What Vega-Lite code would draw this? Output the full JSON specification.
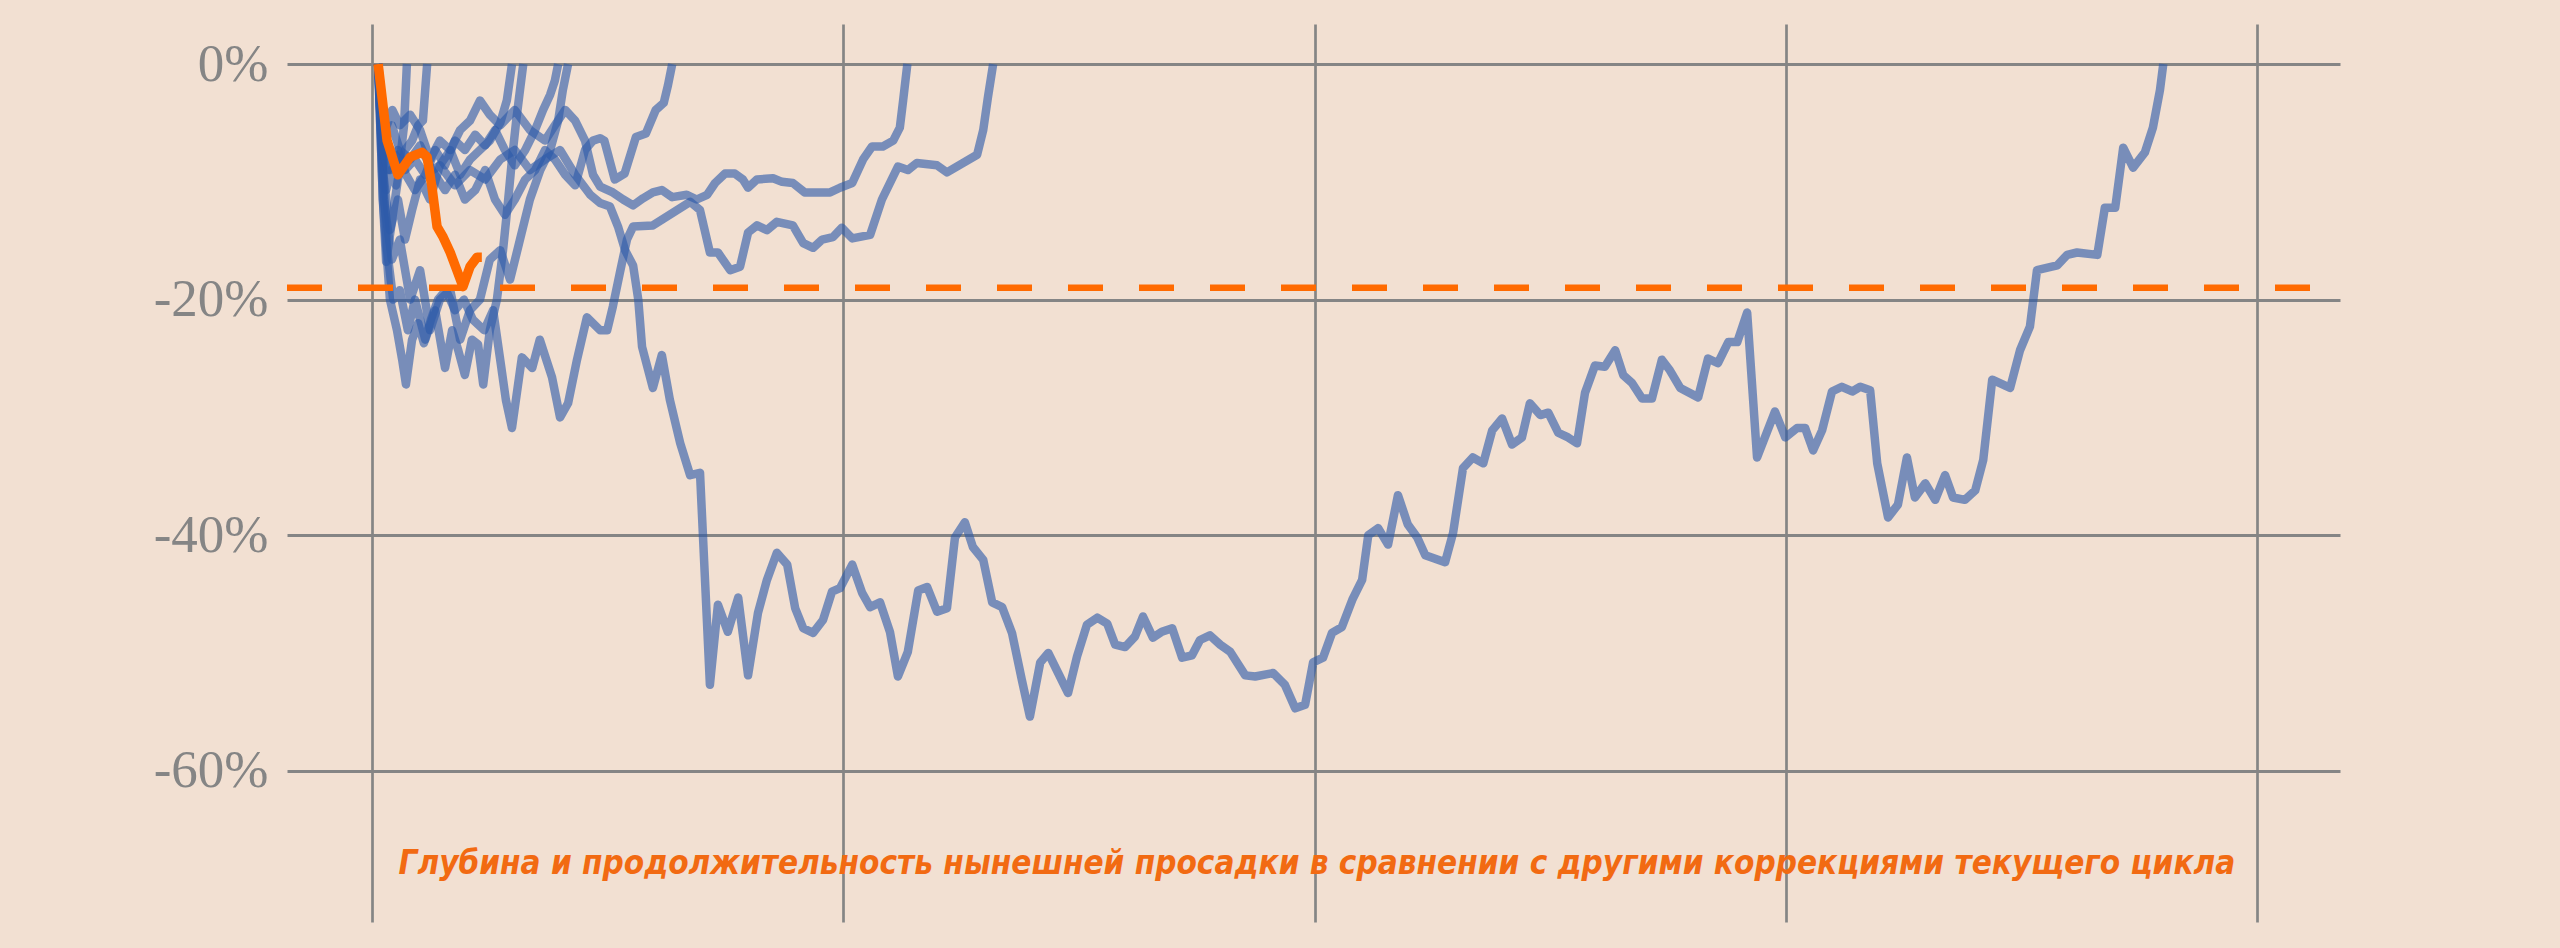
{
  "$schema": "https://vega.github.io/schema/vega-lite/v6.json",
  "width": 2053,
  "height": 898,
  "autosize": {"type": "none"},
  "padding": {"left": 287, "top": 24, "right": 220, "bottom": 26},
  "background": "#F2E0D2",
  "config": {"view": {"stroke": null}},
  "datasets": {
    "blue": [
      {"s": "s1", "d": 1.3, "p": 0}, {"s": "s1", "d": 2.1, "p": -6.5}, {"s": "s1", "d": 3.0, "p": -10.7}, {"s": "s1", "d": 4.0, "p": -9.0}, {"s": "s1", "d": 5.1, "p": -10.3}, {"s": "s1", "d": 6.2, "p": -7.3}, {"s": "s1", "d": 6.8, "p": -5.2}, {"s": "s1", "d": 7.4, "p": 0},

      {"s": "s2", "d": 1.3, "p": 0}, {"s": "s2", "d": 2.3, "p": -11.5}, {"s": "s2", "d": 3.0, "p": -16.8}, {"s": "s2", "d": 4.2, "p": -13.4}, {"s": "s2", "d": 5.5, "p": -9.8}, {"s": "s2", "d": 7.0, "p": -7.3}, {"s": "s2", "d": 8.5, "p": -6.5}, {"s": "s2", "d": 9.8, "p": -5.2}, {"s": "s2", "d": 10.8, "p": -4.8}, {"s": "s2", "d": 11.7, "p": 0},

      {"s": "s3", "d": 1.3, "p": 0}, {"s": "s3", "d": 2.3, "p": -9.0}, {"s": "s3", "d": 3.8, "p": -14.1}, {"s": "s3", "d": 5.5, "p": -11.5}, {"s": "s3", "d": 7.0, "p": -14.9}, {"s": "s3", "d": 8.5, "p": -12.4}, {"s": "s3", "d": 10.2, "p": -9.8}, {"s": "s3", "d": 12.3, "p": -11.5}, {"s": "s3", "d": 14.4, "p": -8.6}, {"s": "s3", "d": 16.6, "p": -7.3}, {"s": "s3", "d": 18.7, "p": -9.4}, {"s": "s3", "d": 20.8, "p": -8.1}, {"s": "s3", "d": 22.9, "p": -7.3}, {"s": "s3", "d": 25.0, "p": -6.5}, {"s": "s3", "d": 27.2, "p": -5.0}, {"s": "s3", "d": 28.6, "p": -3.1}, {"s": "s3", "d": 29.7, "p": 0},

      {"s": "s4", "d": 1.3, "p": 0}, {"s": "s4", "d": 2.1, "p": -7.3}, {"s": "s4", "d": 3.2, "p": -15.8}, {"s": "s4", "d": 4.5, "p": -20.0}, {"s": "s4", "d": 5.9, "p": -19.2}, {"s": "s4", "d": 7.6, "p": -22.6}, {"s": "s4", "d": 9.1, "p": -20.0}, {"s": "s4", "d": 11.3, "p": -23.4}, {"s": "s4", "d": 13.4, "p": -20.9}, {"s": "s4", "d": 15.5, "p": -25.8}, {"s": "s4", "d": 17.0, "p": -22.6}, {"s": "s4", "d": 18.3, "p": -24.3}, {"s": "s4", "d": 19.7, "p": -26.4}, {"s": "s4", "d": 21.2, "p": -23.4}, {"s": "s4", "d": 22.5, "p": -23.8}, {"s": "s4", "d": 23.6, "p": -27.2}, {"s": "s4", "d": 25.0, "p": -22.6}, {"s": "s4", "d": 26.5, "p": -20.0}, {"s": "s4", "d": 27.8, "p": -15.8}, {"s": "s4", "d": 28.9, "p": -11.5}, {"s": "s4", "d": 29.7, "p": -8.1}, {"s": "s4", "d": 30.6, "p": -4.8}, {"s": "s4", "d": 31.4, "p": -2.2}, {"s": "s4", "d": 32.1, "p": 0},

      {"s": "s5", "d": 1.3, "p": 0}, {"s": "s5", "d": 2.3, "p": -5.6}, {"s": "s5", "d": 3.8, "p": -9.0}, {"s": "s5", "d": 5.5, "p": -7.3}, {"s": "s5", "d": 7.2, "p": -9.4}, {"s": "s5", "d": 9.1, "p": -10.7}, {"s": "s5", "d": 11.3, "p": -9.4}, {"s": "s5", "d": 13.4, "p": -7.3}, {"s": "s5", "d": 15.5, "p": -8.6}, {"s": "s5", "d": 17.6, "p": -6.5}, {"s": "s5", "d": 19.7, "p": -7.3}, {"s": "s5", "d": 21.9, "p": -6.0}, {"s": "s5", "d": 24.0, "p": -6.9}, {"s": "s5", "d": 26.1, "p": -5.6}, {"s": "s5", "d": 28.2, "p": -7.3}, {"s": "s5", "d": 30.3, "p": -8.6}, {"s": "s5", "d": 32.5, "p": -7.3}, {"s": "s5", "d": 34.6, "p": -5.6}, {"s": "s5", "d": 36.3, "p": -3.9}, {"s": "s5", "d": 37.8, "p": -2.6}, {"s": "s5", "d": 38.8, "p": -1.4}, {"s": "s5", "d": 39.5, "p": 0},

      {"s": "s6", "d": 1.3, "p": 0}, {"s": "s6", "d": 2.5, "p": -11.5}, {"s": "s6", "d": 4.2, "p": -16.6}, {"s": "s6", "d": 5.9, "p": -14.9}, {"s": "s6", "d": 8.1, "p": -20.0}, {"s": "s6", "d": 10.2, "p": -17.5}, {"s": "s6", "d": 12.3, "p": -22.6}, {"s": "s6", "d": 14.4, "p": -20.0}, {"s": "s6", "d": 16.6, "p": -19.2}, {"s": "s6", "d": 18.7, "p": -23.4}, {"s": "s6", "d": 20.8, "p": -20.9}, {"s": "s6", "d": 22.9, "p": -20.0}, {"s": "s6", "d": 25.0, "p": -16.6}, {"s": "s6", "d": 27.2, "p": -15.8}, {"s": "s6", "d": 29.3, "p": -18.3}, {"s": "s6", "d": 31.4, "p": -14.9}, {"s": "s6", "d": 33.5, "p": -11.5}, {"s": "s6", "d": 35.7, "p": -9.0}, {"s": "s6", "d": 37.8, "p": -7.3}, {"s": "s6", "d": 39.5, "p": -4.8}, {"s": "s6", "d": 40.5, "p": -2.2}, {"s": "s6", "d": 41.6, "p": 0},

      {"s": "s7", "d": 1.3, "p": 0}, {"s": "s7", "d": 2.5, "p": -6.5}, {"s": "s7", "d": 4.2, "p": -5.2}, {"s": "s7", "d": 5.9, "p": -7.3}, {"s": "s7", "d": 8.1, "p": -8.1}, {"s": "s7", "d": 10.2, "p": -6.9}, {"s": "s7", "d": 12.7, "p": -9.0}, {"s": "s7", "d": 15.5, "p": -10.7}, {"s": "s7", "d": 17.6, "p": -9.4}, {"s": "s7", "d": 19.7, "p": -11.5}, {"s": "s7", "d": 21.9, "p": -10.7}, {"s": "s7", "d": 24.0, "p": -9.0}, {"s": "s7", "d": 26.1, "p": -11.5}, {"s": "s7", "d": 28.2, "p": -12.8}, {"s": "s7", "d": 30.3, "p": -11.5}, {"s": "s7", "d": 32.5, "p": -9.8}, {"s": "s7", "d": 34.6, "p": -9.0}, {"s": "s7", "d": 36.7, "p": -7.3}, {"s": "s7", "d": 38.8, "p": -8.1}, {"s": "s7", "d": 41.0, "p": -9.4}, {"s": "s7", "d": 43.1, "p": -10.3}, {"s": "s7", "d": 45.2, "p": -7.3}, {"s": "s7", "d": 46.9, "p": -6.5}, {"s": "s7", "d": 48.4, "p": -6.3}, {"s": "s7", "d": 49.3, "p": -6.5}, {"s": "s7", "d": 51.5, "p": -9.8}, {"s": "s7", "d": 53.6, "p": -9.3}, {"s": "s7", "d": 56.0, "p": -6.2}, {"s": "s7", "d": 58.1, "p": -5.9}, {"s": "s7", "d": 60.2, "p": -3.9}, {"s": "s7", "d": 61.9, "p": -3.3}, {"s": "s7", "d": 62.8, "p": -1.8}, {"s": "s7", "d": 63.7, "p": 0},

      {"s": "s8", "d": 1.3, "p": 0}, {"s": "s8", "d": 2.8, "p": -5.6}, {"s": "s8", "d": 4.3, "p": -3.9}, {"s": "s8", "d": 5.9, "p": -5.2}, {"s": "s8", "d": 8.1, "p": -4.3}, {"s": "s8", "d": 10.2, "p": -5.6}, {"s": "s8", "d": 12.3, "p": -8.1}, {"s": "s8", "d": 14.4, "p": -6.5}, {"s": "s8", "d": 16.6, "p": -7.3}, {"s": "s8", "d": 18.7, "p": -5.6}, {"s": "s8", "d": 20.8, "p": -4.8}, {"s": "s8", "d": 22.9, "p": -3.1}, {"s": "s8", "d": 25.0, "p": -4.3}, {"s": "s8", "d": 27.2, "p": -5.2}, {"s": "s8", "d": 30.3, "p": -3.9}, {"s": "s8", "d": 33.5, "p": -5.6}, {"s": "s8", "d": 36.7, "p": -6.5}, {"s": "s8", "d": 38.8, "p": -5.2}, {"s": "s8", "d": 41.0, "p": -3.9}, {"s": "s8", "d": 43.1, "p": -4.8}, {"s": "s8", "d": 45.2, "p": -6.5}, {"s": "s8", "d": 46.9, "p": -9.4}, {"s": "s8", "d": 48.4, "p": -10.4}, {"s": "s8", "d": 51.1, "p": -10.9}, {"s": "s8", "d": 53.3, "p": -11.5}, {"s": "s8", "d": 55.4, "p": -12.0}, {"s": "s8", "d": 57.5, "p": -11.4}, {"s": "s8", "d": 59.6, "p": -10.9}, {"s": "s8", "d": 61.5, "p": -10.7}, {"s": "s8", "d": 63.7, "p": -11.3}, {"s": "s8", "d": 66.8, "p": -11.1}, {"s": "s8", "d": 68.9, "p": -11.5}, {"s": "s8", "d": 71.1, "p": -11.1}, {"s": "s8", "d": 72.8, "p": -10.1}, {"s": "s8", "d": 74.9, "p": -9.3}, {"s": "s8", "d": 77.0, "p": -9.3}, {"s": "s8", "d": 78.7, "p": -9.8}, {"s": "s8", "d": 79.8, "p": -10.5}, {"s": "s8", "d": 81.7, "p": -9.8}, {"s": "s8", "d": 85.1, "p": -9.7}, {"s": "s8", "d": 87.0, "p": -10.0}, {"s": "s8", "d": 89.3, "p": -10.1}, {"s": "s8", "d": 91.8, "p": -10.9}, {"s": "s8", "d": 97.2, "p": -10.9}, {"s": "s8", "d": 99.3, "p": -10.5}, {"s": "s8", "d": 101.9, "p": -10.1}, {"s": "s8", "d": 104.2, "p": -8.1}, {"s": "s8", "d": 106.1, "p": -7.0}, {"s": "s8", "d": 108.4, "p": -7.0}, {"s": "s8", "d": 110.6, "p": -6.5}, {"s": "s8", "d": 112.0, "p": -5.4}, {"s": "s8", "d": 112.7, "p": -3.1}, {"s": "s8", "d": 113.6, "p": 0},

      {"s": "s9", "d": 1.3, "p": 0}, {"s": "s9", "d": 2.3, "p": -11.5}, {"s": "s9", "d": 3.8, "p": -20.0}, {"s": "s9", "d": 5.3, "p": -22.6}, {"s": "s9", "d": 6.4, "p": -25.1}, {"s": "s9", "d": 7.2, "p": -27.2}, {"s": "s9", "d": 8.5, "p": -23.4}, {"s": "s9", "d": 9.8, "p": -22.0}, {"s": "s9", "d": 11.0, "p": -23.7}, {"s": "s9", "d": 12.5, "p": -21.7}, {"s": "s9", "d": 14.0, "p": -20.0}, {"s": "s9", "d": 15.7, "p": -19.2}, {"s": "s9", "d": 17.6, "p": -20.9}, {"s": "s9", "d": 19.5, "p": -20.0}, {"s": "s9", "d": 21.4, "p": -21.7}, {"s": "s9", "d": 23.8, "p": -22.6}, {"s": "s9", "d": 25.7, "p": -20.9}, {"s": "s9", "d": 27.2, "p": -25.1}, {"s": "s9", "d": 28.4, "p": -28.5}, {"s": "s9", "d": 29.7, "p": -30.9}, {"s": "s9", "d": 31.8, "p": -24.9}, {"s": "s9", "d": 34.0, "p": -25.8}, {"s": "s9", "d": 35.6, "p": -23.4}, {"s": "s9", "d": 38.2, "p": -26.6}, {"s": "s9", "d": 39.9, "p": -30.0}, {"s": "s9", "d": 41.6, "p": -28.8}, {"s": "s9", "d": 43.5, "p": -25.1}, {"s": "s9", "d": 45.6, "p": -21.5}, {"s": "s9", "d": 48.4, "p": -22.6}, {"s": "s9", "d": 49.9, "p": -22.6}, {"s": "s9", "d": 51.1, "p": -20.6}, {"s": "s9", "d": 52.6, "p": -17.7}, {"s": "s9", "d": 54.1, "p": -14.9}, {"s": "s9", "d": 55.4, "p": -13.8}, {"s": "s9", "d": 59.6, "p": -13.7}, {"s": "s9", "d": 67.5, "p": -11.7}, {"s": "s9", "d": 69.6, "p": -12.4}, {"s": "s9", "d": 71.7, "p": -16.0}, {"s": "s9", "d": 73.4, "p": -16.0}, {"s": "s9", "d": 76.0, "p": -17.5}, {"s": "s9", "d": 78.1, "p": -17.2}, {"s": "s9", "d": 79.8, "p": -14.3}, {"s": "s9", "d": 81.7, "p": -13.7}, {"s": "s9", "d": 83.8, "p": -14.1}, {"s": "s9", "d": 85.9, "p": -13.4}, {"s": "s9", "d": 89.3, "p": -13.7}, {"s": "s9", "d": 91.5, "p": -15.2}, {"s": "s9", "d": 93.6, "p": -15.6}, {"s": "s9", "d": 95.5, "p": -14.9}, {"s": "s9", "d": 97.8, "p": -14.7}, {"s": "s9", "d": 99.7, "p": -13.9}, {"s": "s9", "d": 101.9, "p": -14.8}, {"s": "s9", "d": 105.7, "p": -14.5}, {"s": "s9", "d": 108.2, "p": -11.5}, {"s": "s9", "d": 111.6, "p": -8.7}, {"s": "s9", "d": 113.7, "p": -9.0}, {"s": "s9", "d": 115.6, "p": -8.4}, {"s": "s9", "d": 119.9, "p": -8.6}, {"s": "s9", "d": 122.0, "p": -9.2}, {"s": "s9", "d": 128.4, "p": -7.7}, {"s": "s9", "d": 129.7, "p": -5.6}, {"s": "s9", "d": 130.7, "p": -2.8}, {"s": "s9", "d": 131.8, "p": 0},

      {"s": "s10", "d": 1.3, "p": 0}, {"s": "s10", "d": 2.3, "p": -7.3}, {"s": "s10", "d": 3.4, "p": -9.0}, {"s": "s10", "d": 4.9, "p": -7.7}, {"s": "s10", "d": 7.0, "p": -9.0}, {"s": "s10", "d": 9.1, "p": -8.1}, {"s": "s10", "d": 11.3, "p": -9.4}, {"s": "s10", "d": 14.4, "p": -8.6}, {"s": "s10", "d": 17.6, "p": -10.3}, {"s": "s10", "d": 20.8, "p": -9.0}, {"s": "s10", "d": 24.0, "p": -9.8}, {"s": "s10", "d": 27.2, "p": -8.1}, {"s": "s10", "d": 30.3, "p": -7.3}, {"s": "s10", "d": 33.5, "p": -9.0}, {"s": "s10", "d": 36.7, "p": -8.1}, {"s": "s10", "d": 39.9, "p": -7.3}, {"s": "s10", "d": 43.1, "p": -9.4}, {"s": "s10", "d": 46.3, "p": -11.1}, {"s": "s10", "d": 48.4, "p": -11.8}, {"s": "s10", "d": 50.5, "p": -12.1}, {"s": "s10", "d": 52.2, "p": -13.8}, {"s": "s10", "d": 53.7, "p": -15.8}, {"s": "s10", "d": 55.4, "p": -17.1}, {"s": "s10", "d": 56.5, "p": -20.0}, {"s": "s10", "d": 57.3, "p": -24.0}, {"s": "s10", "d": 59.6, "p": -27.5}, {"s": "s10", "d": 61.5, "p": -24.7}, {"s": "s10", "d": 63.2, "p": -28.5}, {"s": "s10", "d": 65.4, "p": -32.2}, {"s": "s10", "d": 67.5, "p": -34.9}, {"s": "s10", "d": 69.6, "p": -34.7}, {"s": "s10", "d": 71.7, "p": -52.7}, {"s": "s10", "d": 73.4, "p": -45.9}, {"s": "s10", "d": 75.5, "p": -48.2}, {"s": "s10", "d": 77.7, "p": -45.3}, {"s": "s10", "d": 79.8, "p": -51.9}, {"s": "s10", "d": 81.9, "p": -46.6}, {"s": "s10", "d": 83.8, "p": -43.8}, {"s": "s10", "d": 85.9, "p": -41.5}, {"s": "s10", "d": 88.1, "p": -42.5}, {"s": "s10", "d": 89.8, "p": -46.2}, {"s": "s10", "d": 91.5, "p": -47.9}, {"s": "s10", "d": 93.6, "p": -48.3}, {"s": "s10", "d": 95.7, "p": -47.2}, {"s": "s10", "d": 97.6, "p": -44.8}, {"s": "s10", "d": 99.3, "p": -44.5}, {"s": "s10", "d": 101.9, "p": -42.5}, {"s": "s10", "d": 104.0, "p": -44.9}, {"s": "s10", "d": 105.7, "p": -46.1}, {"s": "s10", "d": 107.8, "p": -45.7}, {"s": "s10", "d": 109.9, "p": -48.2}, {"s": "s10", "d": 111.6, "p": -52.0}, {"s": "s10", "d": 113.7, "p": -49.9}, {"s": "s10", "d": 115.9, "p": -44.7}, {"s": "s10", "d": 117.8, "p": -44.4}, {"s": "s10", "d": 119.9, "p": -46.5}, {"s": "s10", "d": 122.0, "p": -46.2}, {"s": "s10", "d": 123.7, "p": -40.2}, {"s": "s10", "d": 125.8, "p": -38.9}, {"s": "s10", "d": 127.5, "p": -41.0}, {"s": "s10", "d": 129.7, "p": -42.1}, {"s": "s10", "d": 131.6, "p": -45.7}, {"s": "s10", "d": 133.7, "p": -46.1}, {"s": "s10", "d": 135.8, "p": -48.3}, {"s": "s10", "d": 137.9, "p": -52.3}, {"s": "s10", "d": 139.6, "p": -55.4}, {"s": "s10", "d": 141.8, "p": -50.8}, {"s": "s10", "d": 143.5, "p": -50.0}, {"s": "s10", "d": 145.6, "p": -51.7}, {"s": "s10", "d": 147.7, "p": -53.4}, {"s": "s10", "d": 149.6, "p": -50.3}, {"s": "s10", "d": 151.7, "p": -47.6}, {"s": "s10", "d": 153.9, "p": -47.0}, {"s": "s10", "d": 156.0, "p": -47.5}, {"s": "s10", "d": 157.7, "p": -49.3}, {"s": "s10", "d": 159.8, "p": -49.5}, {"s": "s10", "d": 161.9, "p": -48.6}, {"s": "s10", "d": 163.6, "p": -46.9}, {"s": "s10", "d": 165.7, "p": -48.7}, {"s": "s10", "d": 167.6, "p": -48.2}, {"s": "s10", "d": 169.8, "p": -47.9}, {"s": "s10", "d": 171.9, "p": -50.4}, {"s": "s10", "d": 174.0, "p": -50.2}, {"s": "s10", "d": 175.7, "p": -48.9}, {"s": "s10", "d": 177.8, "p": -48.5}, {"s": "s10", "d": 180.0, "p": -49.3}, {"s": "s10", "d": 182.1, "p": -49.9}, {"s": "s10", "d": 185.3, "p": -51.9}, {"s": "s10", "d": 187.4, "p": -52.0}, {"s": "s10", "d": 191.2, "p": -51.7}, {"s": "s10", "d": 193.7, "p": -52.7}, {"s": "s10", "d": 195.9, "p": -54.7}, {"s": "s10", "d": 198.0, "p": -54.4}, {"s": "s10", "d": 199.7, "p": -50.8}, {"s": "s10", "d": 201.8, "p": -50.4}, {"s": "s10", "d": 203.7, "p": -48.3}, {"s": "s10", "d": 205.8, "p": -47.8}, {"s": "s10", "d": 208.0, "p": -45.5}, {"s": "s10", "d": 210.1, "p": -43.8}, {"s": "s10", "d": 211.4, "p": -40.0}, {"s": "s10", "d": 213.5, "p": -39.4}, {"s": "s10", "d": 215.6, "p": -40.8}, {"s": "s10", "d": 217.7, "p": -36.6}, {"s": "s10", "d": 219.8, "p": -39.1}, {"s": "s10", "d": 221.8, "p": -40.2}, {"s": "s10", "d": 223.5, "p": -41.7}, {"s": "s10", "d": 227.7, "p": -42.3}, {"s": "s10", "d": 229.4, "p": -39.8}, {"s": "s10", "d": 231.5, "p": -34.3}, {"s": "s10", "d": 233.6, "p": -33.4}, {"s": "s10", "d": 235.8, "p": -33.9}, {"s": "s10", "d": 237.7, "p": -31.1}, {"s": "s10", "d": 239.8, "p": -30.1}, {"s": "s10", "d": 241.9, "p": -32.3}, {"s": "s10", "d": 244.0, "p": -31.7}, {"s": "s10", "d": 245.7, "p": -28.8}, {"s": "s10", "d": 247.9, "p": -29.8}, {"s": "s10", "d": 249.6, "p": -29.6}, {"s": "s10", "d": 251.7, "p": -31.3}, {"s": "s10", "d": 253.8, "p": -31.7}, {"s": "s10", "d": 255.7, "p": -32.2}, {"s": "s10", "d": 257.4, "p": -27.9}, {"s": "s10", "d": 259.5, "p": -25.6}, {"s": "s10", "d": 261.6, "p": -25.7}, {"s": "s10", "d": 263.8, "p": -24.3}, {"s": "s10", "d": 265.5, "p": -26.4}, {"s": "s10", "d": 267.4, "p": -27.1}, {"s": "s10", "d": 269.5, "p": -28.4}, {"s": "s10", "d": 271.6, "p": -28.4}, {"s": "s10", "d": 273.7, "p": -25.1}, {"s": "s10", "d": 275.4, "p": -26.0}, {"s": "s10", "d": 277.6, "p": -27.5}, {"s": "s10", "d": 281.4, "p": -28.3}, {"s": "s10", "d": 283.5, "p": -25.0}, {"s": "s10", "d": 285.6, "p": -25.4}, {"s": "s10", "d": 287.8, "p": -23.6}, {"s": "s10", "d": 289.7, "p": -23.6}, {"s": "s10", "d": 291.8, "p": -21.1}, {"s": "s10", "d": 293.9, "p": -33.4}, {"s": "s10", "d": 297.7, "p": -29.5}, {"s": "s10", "d": 299.9, "p": -31.7}, {"s": "s10", "d": 302.4, "p": -30.9}, {"s": "s10", "d": 304.1, "p": -30.9}, {"s": "s10", "d": 305.8, "p": -32.8}, {"s": "s10", "d": 307.7, "p": -31.1}, {"s": "s10", "d": 309.8, "p": -27.8}, {"s": "s10", "d": 311.9, "p": -27.4}, {"s": "s10", "d": 314.1, "p": -27.8}, {"s": "s10", "d": 315.8, "p": -27.4}, {"s": "s10", "d": 317.9, "p": -27.7}, {"s": "s10", "d": 319.4, "p": -33.9}, {"s": "s10", "d": 321.7, "p": -38.5}, {"s": "s10", "d": 323.8, "p": -37.4}, {"s": "s10", "d": 325.7, "p": -33.4}, {"s": "s10", "d": 327.4, "p": -36.8}, {"s": "s10", "d": 329.6, "p": -35.6}, {"s": "s10", "d": 331.7, "p": -37.0}, {"s": "s10", "d": 333.8, "p": -34.9}, {"s": "s10", "d": 335.5, "p": -36.8}, {"s": "s10", "d": 338.0, "p": -37.0}, {"s": "s10", "d": 340.2, "p": -36.2}, {"s": "s10", "d": 341.9, "p": -33.6}, {"s": "s10", "d": 343.8, "p": -26.8}, {"s": "s10", "d": 347.6, "p": -27.5}, {"s": "s10", "d": 349.7, "p": -24.3}, {"s": "s10", "d": 351.8, "p": -22.3}, {"s": "s10", "d": 353.3, "p": -17.5}, {"s": "s10", "d": 357.6, "p": -17.1}, {"s": "s10", "d": 359.7, "p": -16.2}, {"s": "s10", "d": 361.8, "p": -16.0}, {"s": "s10", "d": 366.1, "p": -16.2}, {"s": "s10", "d": 367.7, "p": -12.2}, {"s": "s10", "d": 369.9, "p": -12.2}, {"s": "s10", "d": 371.6, "p": -7.1}, {"s": "s10", "d": 373.7, "p": -8.8}, {"s": "s10", "d": 376.2, "p": -7.5}, {"s": "s10", "d": 377.9, "p": -5.4}, {"s": "s10", "d": 379.4, "p": -2.2}, {"s": "s10", "d": 380.1, "p": 0}
    ],
    "current": [
      {"d": 1.3, "p": 0}, {"d": 3.2, "p": -6.5}, {"d": 5.5, "p": -9.4}, {"d": 8.1, "p": -7.9}, {"d": 10.6, "p": -7.5}, {"d": 11.7, "p": -7.9}, {"d": 12.7, "p": -10.4}, {"d": 13.8, "p": -13.8}, {"d": 15.1, "p": -14.7}, {"d": 16.6, "p": -16.0}, {"d": 18.0, "p": -17.5}, {"d": 19.3, "p": -18.9}, {"d": 20.8, "p": -17.2}, {"d": 22.3, "p": -16.4}, {"d": 23.3, "p": -16.4}
    ],
    "one": [{"k": 1}]
  },
  "layer": [
    {
      "data": {"name": "blue"},
      "mark": {"type": "line", "color": "#2D5AAA", "opacity": 0.62, "strokeWidth": 8.5, "strokeJoin": "round"},
      "encoding": {
        "x": {
          "field": "d", "type": "quantitative",
          "scale": {"domain": [-18.04, 417.6], "nice": false, "zero": false},
          "axis": {"values": [0, 100, 200, 300, 400], "labels": false, "ticks": false, "domain": false, "grid": true, "gridColor": "#858585", "gridWidth": 2.7, "title": null}
        },
        "y": {
          "field": "p", "type": "quantitative",
          "scale": {"domain": [-72.84, 3.4], "nice": false, "zero": false},
          "axis": {"values": [0, -20, -40, -60], "labelExpr": "datum.value + '%'", "labelFont": "Liberation Serif", "labelFontSize": 53, "labelColor": "#858585", "labelPadding": 19, "ticks": false, "tickSize": 0, "domain": false, "grid": true, "gridColor": "#858585", "gridWidth": 3, "title": null}
        },
        "detail": {"field": "s"},
        "order": {"field": "d", "type": "quantitative"}
      }
    },
    {
      "data": {"name": "current"},
      "mark": {"type": "line", "color": "#FF6A00", "strokeWidth": 9.5, "strokeJoin": "round"},
      "encoding": {
        "x": {"field": "d", "type": "quantitative"},
        "y": {"field": "p", "type": "quantitative"}
      }
    },
    {
      "data": {"name": "one"},
      "mark": {"type": "rule", "color": "#FF6A00", "strokeWidth": 6.5, "strokeDash": [35, 36]},
      "encoding": {"x": {"datum": -18.04}, "x2": {"datum": 417.6}, "y": {"datum": -19}}
    },
    {
      "data": {"name": "one"},
      "mark": {"type": "text", "font": "DejaVu Sans Condensed", "fontStyle": "italic", "fontWeight": "bold", "fontSize": 33, "color": "#F26A12", "align": "center", "baseline": "alphabetic"},
      "encoding": {
        "x": {"datum": 200.5},
        "y": {"datum": -68.8},
        "text": {"value": "Глубина и продолжительность нынешней просадки в сравнении с другими коррекциями текущего цикла"}
      }
    }
  ]
}
